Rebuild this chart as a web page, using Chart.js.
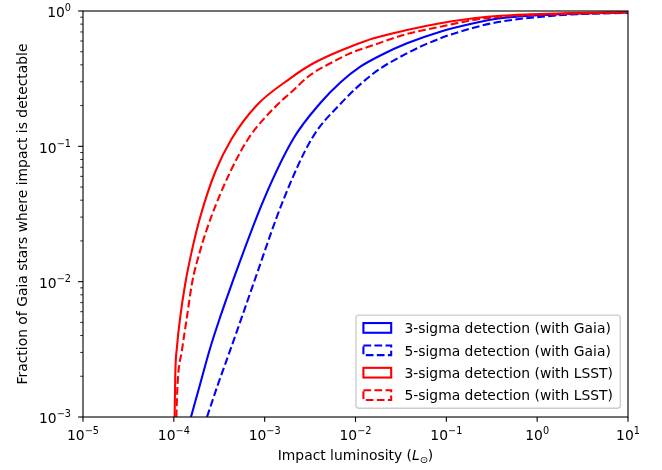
<!DOCTYPE html>
<html>
<head>
<meta charset="utf-8">
<script src="https://cdn.jsdelivr.net/npm/chart.js@4/dist/chart.umd.min.js"></script>
<style>
  html, body { margin: 0; padding: 0; background: #ffffff; }
  canvas { display: block; }
</style>
</head>
<body>
<canvas id="chart" width="662" height="470"></canvas>
<script>
// Cumulative fraction of Gaia stars for which an impact of a given luminosity is detectable.
// Luminosity (L_sun) and fraction values, one pair of arrays per detection threshold.
const gaia3X = [1.545e-4, 1.956e-4, 2.476e-4, 3.248e-4, 4.368e-4, 9.734e-4, 2.083e-3, 4.10e-3, 6.805e-3,
                0.0113, 0.01876, 0.0369, 0.0858, 0.1997, 0.3928, 1.941, 10];
const gaia3Y = [0.001, 0.00177, 0.00313, 0.00551, 0.00973, 0.0401, 0.1147, 0.209, 0.2962,
                0.3877, 0.4689, 0.577, 0.703, 0.811, 0.883, 0.950, 0.975];

const gaia5X = [2.318e-4, 3.087e-4, 4.183e-4, 5.628e-4, 7.553e-4, 1.604e-3, 3.32e-3, 6.805e-3,
                0.01583, 0.0369, 0.0858, 0.1997, 0.3928, 1.941, 10];
const gaia5Y = [0.001, 0.00177, 0.00313, 0.00551, 0.00973, 0.0401, 0.1147, 0.2055,
                0.3465, 0.4869, 0.6284, 0.7526, 0.8336, 0.934, 0.9714];

const lsst3X = [1.020e-4, 1.038e-4, 1.084e-4, 1.178e-4, 1.338e-4, 1.585e-4, 1.956e-4, 2.861e-4, 4.368e-4,
                8.233e-4, 1.916e-3, 3.18e-3, 5.28e-3, 8.77e-3, 0.01583, 0.0369, 0.0858, 0.1997, 0.3928, 1.941, 10];
const lsst3Y = [0.001, 0.0021, 0.00331, 0.00551, 0.00973, 0.0171, 0.0302, 0.0649, 0.1147,
                0.202, 0.3182, 0.399, 0.473, 0.5447, 0.6284, 0.7237, 0.811, 0.883, 0.923, 0.962, 0.978];

const lsst5X = [1.065e-4, 1.100e-4, 1.230e-4, 1.396e-4, 1.585e-4, 1.956e-4, 2.585e-4, 4.183e-4, 6.656e-4,
                1.367e-3, 1.916e-3, 3.18e-3, 5.28e-3, 8.77e-3, 0.01583, 0.0369, 0.0858, 0.1997, 0.3928, 1.941, 10];
const lsst5Y = [0.001, 0.00177, 0.00313, 0.00551, 0.00973, 0.0171, 0.0302, 0.0649, 0.1147,
                0.202, 0.2477, 0.3366, 0.4108, 0.4869, 0.5607, 0.6761, 0.7655, 0.858, 0.9077, 0.950, 0.978];

const seriesLabels = [
  '3-sigma detection (with Gaia)',
  '5-sigma detection (with Gaia)',
  '3-sigma detection (with LSST)',
  '5-sigma detection (with LSST)'
];

// Axis ticks (decades) and their exponent labels
const xMajorTicks = [1e-5, 1e-4, 1e-3, 1e-2, 1e-1, 1e0, 1e1];
const xTickExponents = ['\u22125', '\u22124', '\u22123', '\u22122', '\u22121', '0', '1'];
const yMajorTicks = [1e-3, 1e-2, 1e-1, 1e0];
const yTickExponents = ['\u22123', '\u22122', '\u22121', '0'];
const yMinorMultipliers = [2, 3, 4, 5, 6, 7, 8, 9];

const xTitleParts = { before: 'Impact luminosity (', symbol: 'L', sub: '\u2299', after: ')' };
const yTitle = 'Fraction of Gaia stars where impact is detectable';

const FONT = '"DejaVu Sans", sans-serif';
const PX = 100 / 72;              // points to pixels
const FS = 10 * PX;               // base font size
const FS_SMALL = FS * 0.7;        // super/subscript size
const LW = 1.5 * PX;              // line width
const DASH = [3.7 * LW, 1.6 * LW];

function pairs(xs, ys) { return xs.map((x, i) => ({ x: x, y: ys[i] })); }

function makeSet(label, xs, ys, color, dashed, order) {
  return {
    label: label,
    data: pairs(xs, ys),
    borderColor: color,
    backgroundColor: 'rgba(0,0,0,0)',
    borderWidth: LW,
    borderDash: dashed ? DASH : [],
    pointRadius: 0,
    fill: false,
    cubicInterpolationMode: 'monotone',
    order: order
  };
}

function drawPower(ctx, exp, x, y, align) {
  ctx.font = FS + 'px ' + FONT;
  const wb = ctx.measureText('10').width;
  ctx.font = FS_SMALL + 'px ' + FONT;
  const we = ctx.measureText(exp).width;
  const total = wb + we;
  const x0 = align === 'center' ? x - total / 2 : x - total;
  ctx.textAlign = 'left';
  ctx.textBaseline = 'alphabetic';
  ctx.font = FS + 'px ' + FONT;
  ctx.fillText('10', x0, y);
  ctx.font = FS_SMALL + 'px ' + FONT;
  ctx.fillText(exp, x0 + wb, y - 6);
}

const axesDecor = {
  id: 'axesDecor',
  afterDraw(chart) {
    const ctx = chart.ctx;
    const area = chart.chartArea;
    const xs = chart.scales.x;
    const ys = chart.scales.y;
    ctx.save();
    ctx.fillStyle = '#000000';
    ctx.strokeStyle = '#000000';

    // frame
    ctx.lineWidth = 0.8 * PX;
    ctx.setLineDash([]);
    ctx.strokeRect(area.left, area.top, area.right - area.left, area.bottom - area.top);

    // x ticks + labels
    const majLen = 3.5 * PX;
    xMajorTicks.forEach((v, i) => {
      const px = xs.getPixelForValue(v);
      ctx.lineWidth = 0.8 * PX;
      ctx.beginPath();
      ctx.moveTo(px, area.bottom);
      ctx.lineTo(px, area.bottom + majLen);
      ctx.stroke();
      drawPower(ctx, xTickExponents[i], px, area.bottom + 23, 'center');
    });

    // y ticks + labels
    yMajorTicks.forEach((v, i) => {
      const py = ys.getPixelForValue(v);
      ctx.lineWidth = 0.8 * PX;
      ctx.beginPath();
      ctx.moveTo(area.left, py);
      ctx.lineTo(area.left - majLen, py);
      ctx.stroke();
      drawPower(ctx, yTickExponents[i], area.left - 12, py + 6.3, 'right');
      if (i < yMajorTicks.length - 1) {
        yMinorMultipliers.forEach(m => {
          const pm = ys.getPixelForValue(v * m);
          ctx.lineWidth = 0.6 * PX;
          ctx.beginPath();
          ctx.moveTo(area.left, pm);
          ctx.lineTo(area.left - 2 * PX, pm);
          ctx.stroke();
        });
      }
    });

    // x axis title with italic L and subscript sun symbol
    const fN = FS + 'px ' + FONT;
    const fI = 'italic ' + FS + 'px ' + FONT;
    const fS = FS_SMALL + 'px ' + FONT;
    ctx.font = fN; const w1 = ctx.measureText(xTitleParts.before).width;
    ctx.font = fI; const w2 = ctx.measureText(xTitleParts.symbol).width;
    ctx.font = fS; const w3 = ctx.measureText(xTitleParts.sub).width;
    ctx.font = fN; const w4 = ctx.measureText(xTitleParts.after).width;
    const cx = (area.left + area.right) / 2;
    let tx = cx - (w1 + w2 + w3 + w4) / 2;
    const ty = area.bottom + 42.5;
    ctx.textAlign = 'left';
    ctx.textBaseline = 'alphabetic';
    ctx.font = fN; ctx.fillText(xTitleParts.before, tx, ty); tx += w1;
    ctx.font = fI; ctx.fillText(xTitleParts.symbol, tx, ty); tx += w2;
    ctx.font = fS; ctx.fillText(xTitleParts.sub, tx, ty + 3); tx += w3;
    ctx.font = fN; ctx.fillText(xTitleParts.after, tx, ty);

    // y axis title
    ctx.save();
    ctx.translate(27, (area.top + area.bottom) / 2);
    ctx.rotate(-Math.PI / 2);
    ctx.font = fN;
    ctx.textAlign = 'center';
    ctx.textBaseline = 'alphabetic';
    ctx.fillText(yTitle, 0, 0);
    ctx.restore();

    // legend
    ctx.font = fN;
    let maxW = 0;
    chart.data.datasets.forEach(d => { maxW = Math.max(maxW, ctx.measureText(d.label).width); });
    const right = area.right - 7.7;
    const bottom = area.bottom - 8.7;
    const rowH = 22.4;
    const n = chart.data.datasets.length;
    const height = 26 + rowH * (n - 1);
    const width = 48.5 + maxW + 7.3;
    const left = right - width;
    const top = bottom - height;
    const r = 3;
    ctx.beginPath();
    ctx.moveTo(left + r, top);
    ctx.arcTo(right, top, right, bottom, r);
    ctx.arcTo(right, bottom, left, bottom, r);
    ctx.arcTo(left, bottom, left, top, r);
    ctx.arcTo(left, top, right, top, r);
    ctx.closePath();
    ctx.fillStyle = 'rgba(255,255,255,0.8)';
    ctx.fill();
    ctx.lineWidth = 1 * PX;
    ctx.strokeStyle = '#cccccc';
    ctx.stroke();

    chart.data.datasets.forEach((d, i) => {
      const cy = top + 12.8 + i * rowH;
      ctx.strokeStyle = d.borderColor;
      ctx.lineWidth = d.borderWidth;
      ctx.setLineDash(d.borderDash || []);
      ctx.strokeRect(left + 7.5, cy - 0.35 * FS, 2.0 * FS, 0.7 * FS);
      ctx.setLineDash([]);
      ctx.fillStyle = '#000000';
      ctx.font = fN;
      ctx.textAlign = 'left';
      ctx.textBaseline = 'alphabetic';
      ctx.fillText(d.label, left + 48.5, cy + 5.3);
    });
    ctx.restore();
  }
};

new Chart(document.getElementById('chart'), {
  type: 'line',
  data: {
    datasets: [
      makeSet(seriesLabels[0], gaia3X, gaia3Y, '#0000ff', false, 3),
      makeSet(seriesLabels[1], gaia5X, gaia5Y, '#0000ff', true, 2),
      makeSet(seriesLabels[2], lsst3X, lsst3Y, '#ff0000', false, 1),
      makeSet(seriesLabels[3], lsst5X, lsst5Y, '#ff0000', true, 0)
    ]
  },
  options: {
    responsive: false,
    devicePixelRatio: 1,
    animation: false,
    layout: { padding: { top: 11, right: 34, bottom: 0, left: 0 } },
    plugins: {
      legend: { display: false },
      tooltip: { enabled: false }
    },
    scales: {
      x: {
        type: 'logarithmic',
        min: 1e-5,
        max: 10,
        grid: { display: false },
        border: { display: false },
        ticks: { display: false },
        afterFit(scale) { scale.height = 53; }
      },
      y: {
        type: 'logarithmic',
        min: 1e-3,
        max: 1,
        grid: { display: false },
        border: { display: false },
        ticks: { display: false },
        afterFit(scale) { scale.width = 83; }
      }
    }
  },
  plugins: [axesDecor]
});
</script>
</body>
</html>
